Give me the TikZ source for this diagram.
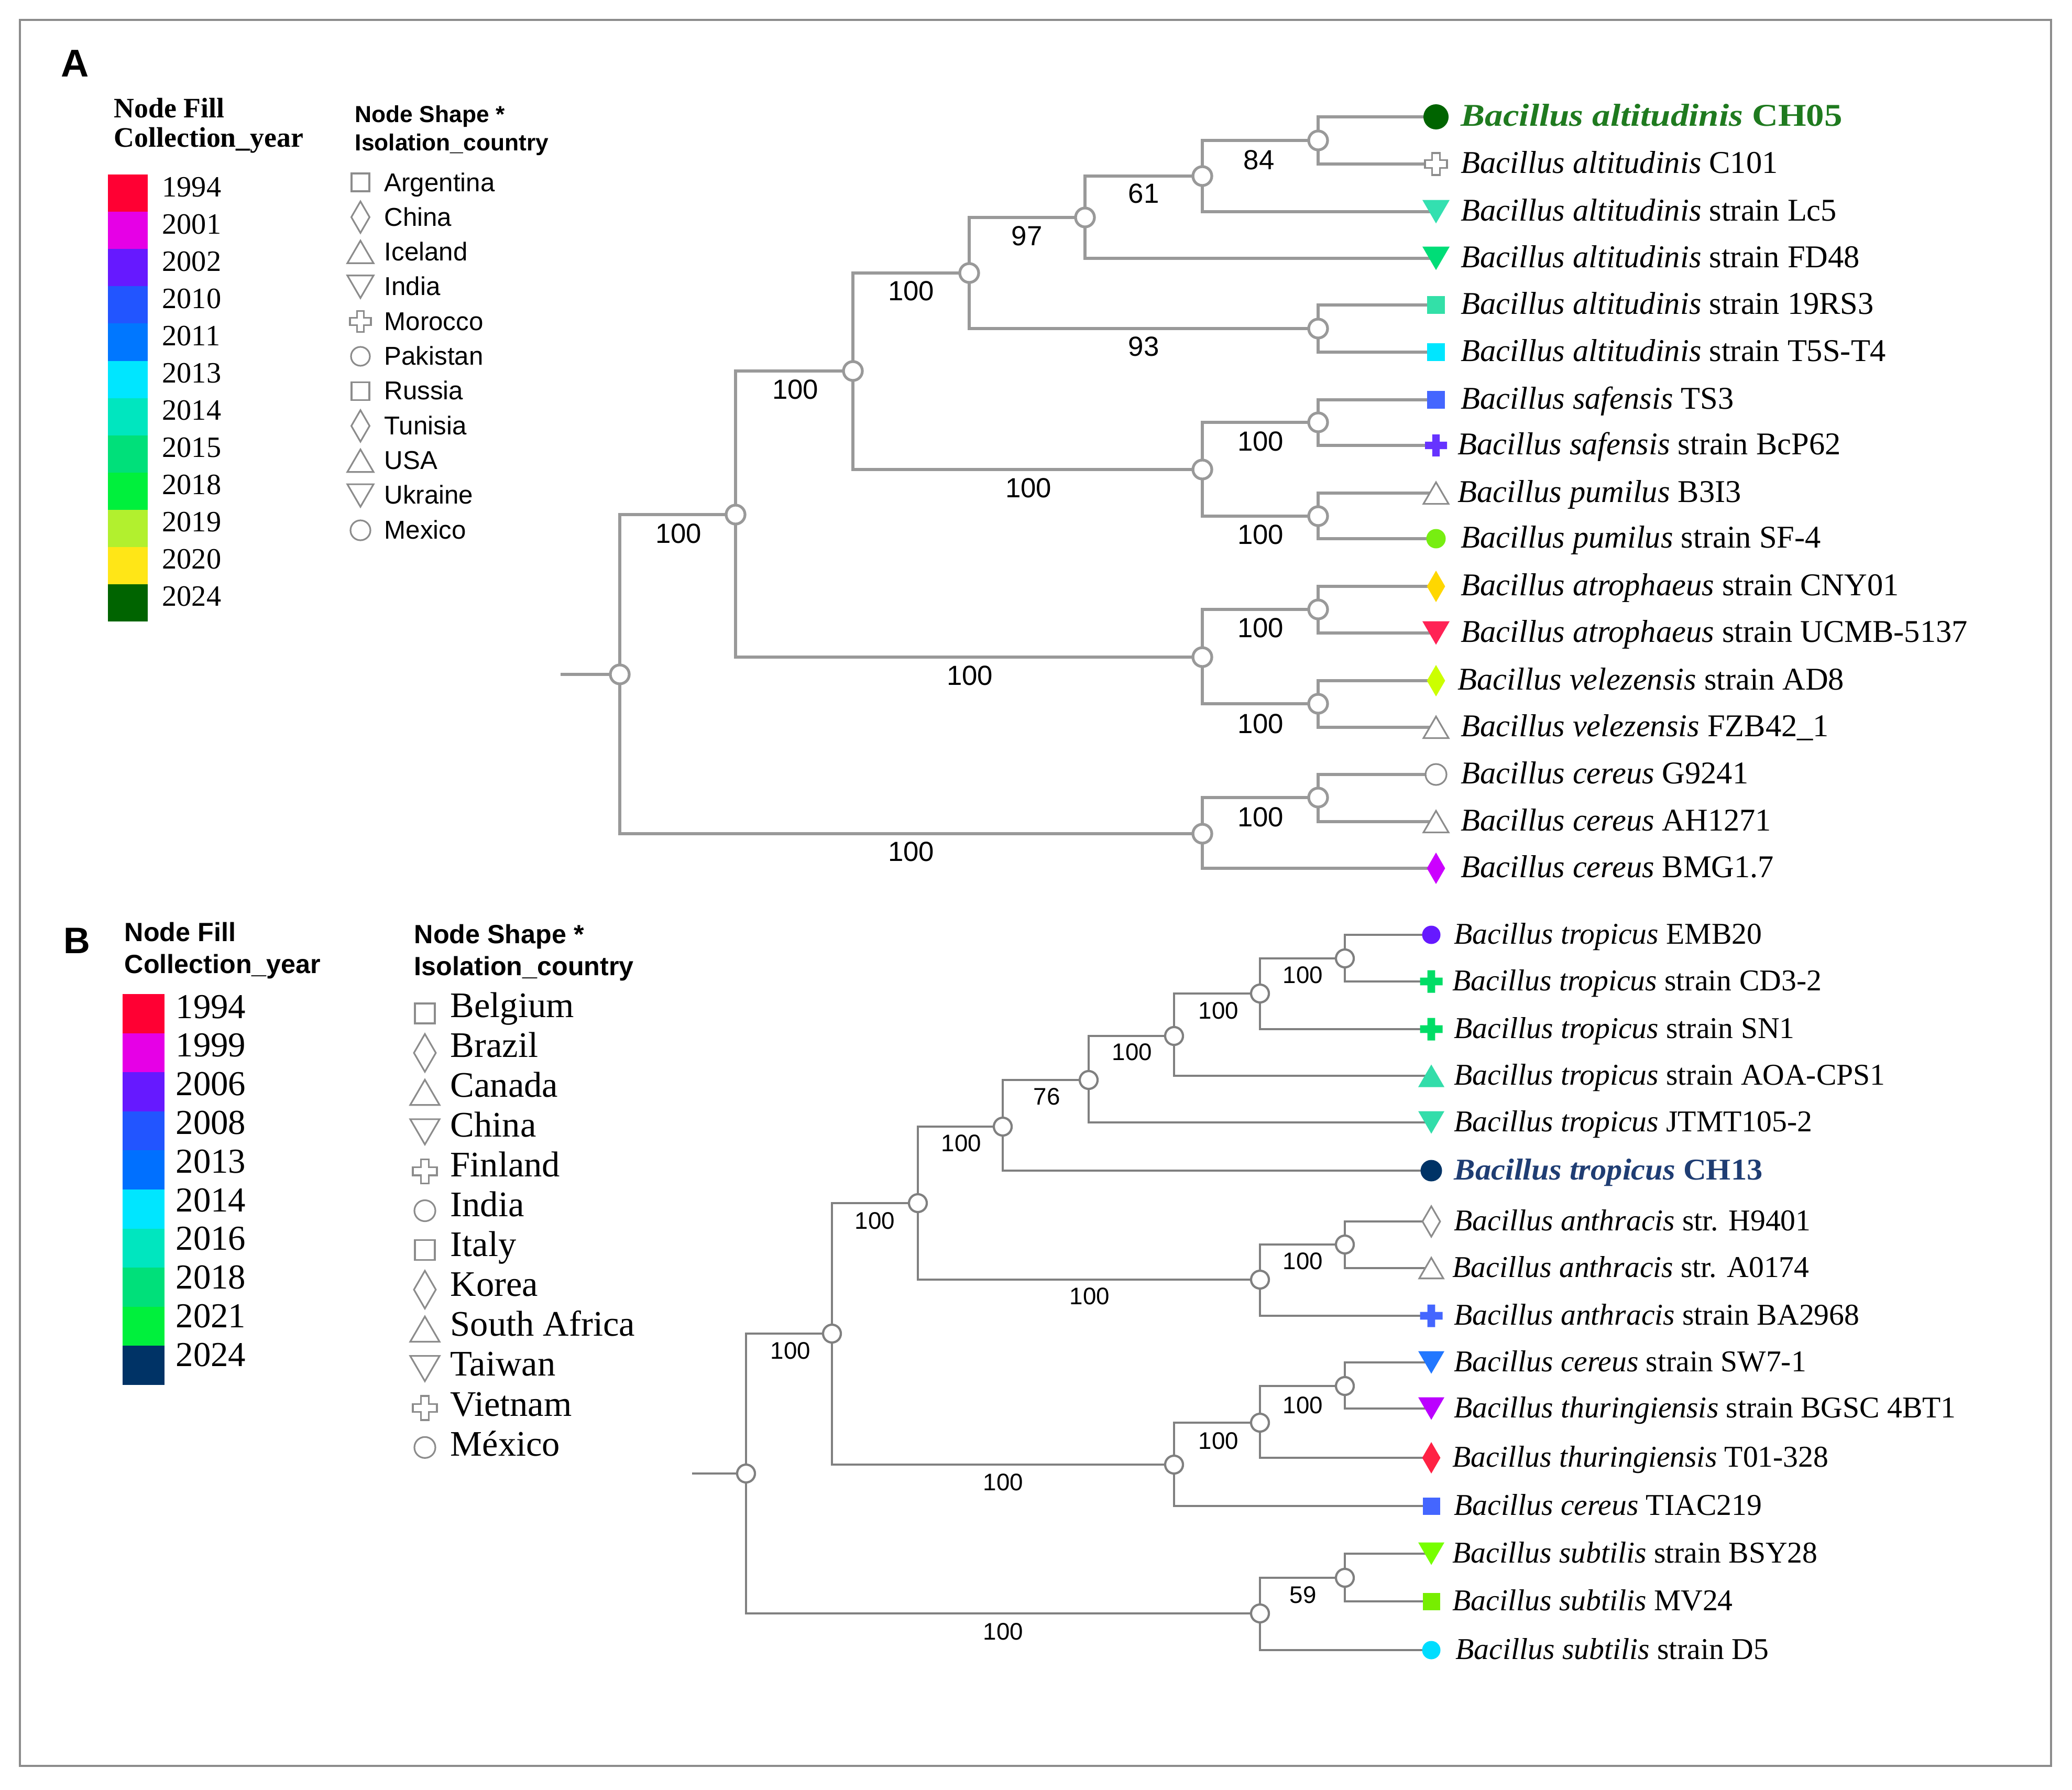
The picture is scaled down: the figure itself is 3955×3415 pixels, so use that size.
\documentclass[tikz,border=0pt]{standalone}
\usepackage{fontspec}
\setmainfont{Liberation Serif}
\newfontfamily\lsans{Liberation Sans}
\usetikzlibrary{backgrounds}
\definecolor{lineA}{HTML}{999999}
\definecolor{lineB}{HTML}{808080}
\definecolor{frameC}{HTML}{8C8C8C}
\definecolor{mgray}{HTML}{8C8C8C}
\definecolor{cA}{HTML}{FF0033}
\definecolor{cB}{HTML}{E600E6}
\definecolor{cC}{HTML}{6619FF}
\definecolor{cD}{HTML}{2255FF}
\definecolor{cE}{HTML}{0077FF}
\definecolor{cF}{HTML}{00E6FF}
\definecolor{cG}{HTML}{00E6BF}
\definecolor{cH}{HTML}{00E07A}
\definecolor{cI}{HTML}{00F03C}
\definecolor{cJ}{HTML}{B2F02E}
\definecolor{cK}{HTML}{FFE617}
\definecolor{cL}{HTML}{006400}
\definecolor{cM}{HTML}{003366}
\definecolor{cN}{HTML}{0070FF}
\definecolor{chgreen}{HTML}{1F7A1F}
\definecolor{chblue}{HTML}{1F3D73}
\definecolor{mTeal}{HTML}{33E0B0}
\definecolor{mGreen}{HTML}{00DD77}
\definecolor{mSq}{HTML}{33E0A8}
\definecolor{mBlue}{HTML}{4466FF}
\definecolor{mPurp}{HTML}{6633FF}
\definecolor{mLime}{HTML}{77EE11}
\definecolor{mGold}{HTML}{FFD700}
\definecolor{mRed}{HTML}{FF2255}
\definecolor{mYel}{HTML}{CCFF00}
\definecolor{mMag}{HTML}{CC00FF}
\definecolor{mBGreen}{HTML}{00DD66}
\definecolor{mBTeal}{HTML}{33DDAA}
\definecolor{mSky}{HTML}{2277FF}
\definecolor{mViol}{HTML}{BB00FF}
\definecolor{mCrim}{HTML}{FF2244}
\definecolor{mChart}{HTML}{77FF00}
\definecolor{mGrass}{HTML}{77EE00}
\definecolor{mCyan}{HTML}{00DDFF}
\newcommand\spc[1]{\textit{#1}}
\begin{document}
\begin{tikzpicture}[x=0.01cm,y=-0.01cm,
  treeA/.style={draw=lineA, line width=1.5pt},
  treeB/.style={draw=lineB, line width=1.2pt},
  inA/.style={circle, draw=lineA, fill=white, line width=1.5pt, minimum size=0.36cm, inner sep=0pt},
  inB/.style={circle, draw=lineB, fill=white, line width=1.2pt, minimum size=0.34cm, inner sep=0pt},
  supA/.style={inner sep=0pt, font=\lsans\fontsize{15}{15}\selectfont},
  supB/.style={inner sep=0pt, font=\lsans\fontsize{13}{13}\selectfont},
  taxA/.style={anchor=base west, inner sep=0pt, font=\fontsize{17.2}{19}\selectfont},
  taxB/.style={anchor=base west, inner sep=0pt, font=\fontsize{16.4}{18}\selectfont},
  hollow/.style={draw=mgray, fill=white, line width=0.9pt},
  ttlserif/.style={anchor=base west, inner sep=0pt, font=\bfseries\fontsize{15.3}{15}\selectfont},
  ttlsans/.style={anchor=base west, inner sep=0pt, font=\lsans\bfseries\fontsize{12.6}{12.6}\selectfont},
  ttlsansB/.style={anchor=base west, inner sep=0pt, font=\lsans\bfseries\fontsize{14.3}{14.3}\selectfont},
  yrA/.style={anchor=base west, inner sep=0pt, font=\fontsize{16}{16}\selectfont},
  ctA/.style={anchor=base west, inner sep=0pt, font=\lsans\fontsize{14}{14}\selectfont},
  yrB/.style={anchor=base west, inner sep=0pt, font=\fontsize{19}{19}\selectfont},
  ctB/.style={anchor=base west, inner sep=0pt, font=\fontsize{19.5}{19.5}\selectfont},
  panel/.style={anchor=base west, inner sep=0pt, font=\lsans\bfseries\fontsize{21}{21}\selectfont},
  pics/tdown/.style={code={\path[pic actions] (-0.5,-0.43) -- (0.5,-0.43) -- (0,0.43) -- cycle;}},
  pics/tup/.style={code={\path[pic actions] (-0.5,0.43) -- (0.5,0.43) -- (0,-0.43) -- cycle;}},
  pics/sq/.style={code={\path[pic actions] (-0.5,-0.5) rectangle (0.5,0.5);}},
  pics/dia/.style={code={\path[pic actions] (-0.29,0) -- (0,-0.5) -- (0.29,0) -- (0,0.5) -- cycle;}},
  pics/circ/.style={code={\path[pic actions] (0,0) circle[radius=0.5];}},
  pics/plus/.style={code={\path[pic actions] (-0.5,-0.17) -- (-0.17,-0.17) -- (-0.17,-0.5) -- (0.17,-0.5) -- (0.17,-0.17) -- (0.5,-0.17) -- (0.5,0.17) -- (0.17,0.17) -- (0.17,0.5) -- (-0.17,0.5) -- (-0.17,0.17) -- (-0.5,0.17) -- cycle;}},
]
\useasboundingbox (0,0) rectangle (3955,3415);
\draw[draw=frameC, line width=1.1pt] (38,38) rectangle (3915,3370);

% ================= Panel A legend =================
\node[panel] (labA) at (116,147) {A};
\node[ttlserif] (nfA1) at (217,225) {Node Fill};
\node[ttlserif] (nfA2) at (217,281) {Collection\_year};
\node[ttlsans] (nsA1) at (677,233) {Node Shape *};
\node[ttlsans] (nsA2) at (677,287) {Isolation\_country};
\foreach \c [count=\i from 0] in {cA,cB,cC,cD,cE,cF,cG,cH,cI,cJ,cK,cL}
  \fill[\c] (206,{333+71.1*\i}) rectangle (282,{333+71.1*(\i+1)});
\foreach \yv [count=\i from 0] in {1994,2001,2002,2010,2011,2013,2014,2015,2018,2019,2020,2024}
  \node[yrA] (yA\i) at (309,{375+71*\i}) {\yv};
\foreach \ct [count=\i from 0] in {Argentina,China,Iceland,India,Morocco,Pakistan,Russia,Tunisia,USA,Ukraine,Mexico}
  \node[ctA] (cA\i) at (733,{365+66.3*\i}) {\ct};
\pic[hollow, scale=34] at (688,348) {sq};
\pic[hollow, scale=60] at (688,414.4) {dia};
\pic[hollow, scale=50] at (688,480.8) {tup};
\pic[hollow, scale=50] at (688,547.2) {tdown};
\pic[hollow, scale=40] at (688,613.6) {plus};
\pic[hollow, scale=36] at (688,680) {circ};
\pic[hollow, scale=34] at (688,746.4) {sq};
\pic[hollow, scale=60] at (688,812.8) {dia};
\pic[hollow, scale=50] at (688,879.2) {tup};
\pic[hollow, scale=50] at (688,945.6) {tdown};
\pic[hollow, scale=38] at (688,1012) {circ};

% ================= Panel A tree =================
\node[inA] (a0) at (1183,1287) {};
\node[inA] (a1) at (1404,982) {};
\node[inA] (a2) at (1628,708) {};
\node[inA] (a3) at (1850,521) {};
\node[inA] (a4) at (2071,415) {};
\node[inA] (a5) at (2295,336) {};
\node[inA] (a6) at (2516,268) {};
\node[inA] (a7) at (2516,627) {};
\node[inA] (a8) at (2295,896) {};
\node[inA] (a9) at (2516,806) {};
\node[inA] (a10) at (2516,985) {};
\node[inA] (a11) at (2295,1254) {};
\node[inA] (a12) at (2516,1163) {};
\node[inA] (a13) at (2516,1343) {};
\node[inA] (a14) at (2295,1591) {};
\node[inA] (a15) at (2516,1522) {};
\coordinate (a0s) at (1070,1287);

\newcommand\leafA[4]{\coordinate (#1) at (2741,#2); \pic[#3] at (#1) {#4};}
\leafA{lA1}{223}{fill=cL, scale=48}{circ}
\leafA{lA2}{313}{hollow, scale=42}{plus}
\leafA{lA3}{404}{fill=mTeal, scale=52}{tdown}
\leafA{lA4}{493}{fill=mGreen, scale=52}{tdown}
\leafA{lA5}{582}{fill=mSq, scale=34}{sq}
\leafA{lA6}{672}{fill=cF, scale=34}{sq}
\leafA{lA7}{763}{fill=mBlue, scale=34}{sq}
\leafA{lA8}{850}{fill=mPurp, scale=42}{plus}
\leafA{lA9}{941}{hollow, scale=48}{tup}
\leafA{lA10}{1028}{fill=mLime, scale=37}{circ}
\leafA{lA11}{1119}{fill=mGold, scale=60}{dia}
\leafA{lA12}{1208}{fill=mRed, scale=52}{tdown}
\leafA{lA13}{1299}{fill=mYel, scale=60}{dia}
\leafA{lA14}{1388}{hollow, scale=48}{tup}
\leafA{lA15}{1478}{hollow, scale=40}{circ}
\leafA{lA16}{1568}{hollow, scale=48}{tup}
\leafA{lA17}{1657}{fill=mMag, scale=60}{dia}

\node[taxA, text=chgreen, font=\bfseries\fontsize{17.2}{19}\selectfont\addfontfeature{FakeStretch=1.14}] (tA1) at (2788,240) {\spc{Bacillus altitudinis} CH05};
\node[taxA] (tA2) at (2788,330) {\spc{Bacillus altitudinis} C101};
\node[taxA] (tA3) at (2788,421) {\spc{Bacillus altitudinis} strain Lc5};
\node[taxA] (tA4) at (2788,510) {\spc{Bacillus altitudinis} strain FD48};
\node[taxA] (tA5) at (2788,599) {\spc{Bacillus altitudinis} strain 19RS3};
\node[taxA] (tA6) at (2788,689) {\spc{Bacillus altitudinis} strain T5S-T4};
\node[taxA] (tA7) at (2788,780) {\spc{Bacillus safensis} TS3};
\node[taxA] (tA8) at (2782,867) {\spc{Bacillus safensis} strain BcP62};
\node[taxA] (tA9) at (2782,958) {\spc{Bacillus pumilus} B3I3};
\node[taxA] (tA10) at (2788,1045) {\spc{Bacillus pumilus} strain SF-4};
\node[taxA] (tA11) at (2788,1136) {\spc{Bacillus atrophaeus} strain CNY01};
\node[taxA] (tA12) at (2788,1225) {\spc{Bacillus atrophaeus} strain UCMB-5137};
\node[taxA] (tA13) at (2782,1316) {\spc{Bacillus velezensis} strain AD8};
\node[taxA] (tA14) at (2788,1405) {\spc{Bacillus velezensis} FZB42\_1};
\node[taxA] (tA15) at (2788,1495) {\spc{Bacillus cereus} G9241};
\node[taxA] (tA16) at (2788,1585) {\spc{Bacillus cereus} AH1271};
\node[taxA] (tA17) at (2788,1674) {\spc{Bacillus cereus} BMG1.7};

\node[supA] (sA1) at (1295,1018) {100};
\node[supA] (sA2) at (1739,1625) {100};
\node[supA] (sA3) at (1518,743) {100};
\node[supA] (sA4) at (1851,1289) {100};
\node[supA] (sA5) at (1739,555) {100};
\node[supA] (sA6) at (1963,931) {100};
\node[supA] (sA7) at (1960,450) {97};
\node[supA] (sA8) at (2183,661) {93};
\node[supA] (sA9) at (2183,369) {61};
\node[supA] (sA10) at (2403,305) {84};
\node[supA] (sA11) at (2406,842) {100};
\node[supA] (sA12) at (2406,1020) {100};
\node[supA] (sA13) at (2406,1198) {100};
\node[supA] (sA14) at (2406,1381) {100};
\node[supA] (sA15) at (2406,1559) {100};

\begin{scope}[on background layer]
\fill[white] (0,0) rectangle (3955,3415);
\draw[treeA] (a0s) -- (a0.center);
\draw[treeA] (a0.center) |- (a1.center);
\draw[treeA] (a0.center) |- (a14.center);
\draw[treeA] (a1.center) |- (a2.center);
\draw[treeA] (a1.center) |- (a11.center);
\draw[treeA] (a2.center) |- (a3.center);
\draw[treeA] (a2.center) |- (a8.center);
\draw[treeA] (a3.center) |- (a4.center);
\draw[treeA] (a3.center) |- (a7.center);
\draw[treeA] (a4.center) |- (a5.center);
\draw[treeA] (a4.center) |- (lA4);
\draw[treeA] (a5.center) |- (a6.center);
\draw[treeA] (a5.center) |- (lA3);
\draw[treeA] (a6.center) |- (lA1);
\draw[treeA] (a6.center) |- (lA2);
\draw[treeA] (a7.center) |- (lA5);
\draw[treeA] (a7.center) |- (lA6);
\draw[treeA] (a8.center) |- (a9.center);
\draw[treeA] (a8.center) |- (a10.center);
\draw[treeA] (a9.center) |- (lA7);
\draw[treeA] (a9.center) |- (lA8);
\draw[treeA] (a10.center) |- (lA9);
\draw[treeA] (a10.center) |- (lA10);
\draw[treeA] (a11.center) |- (a12.center);
\draw[treeA] (a11.center) |- (a13.center);
\draw[treeA] (a12.center) |- (lA11);
\draw[treeA] (a12.center) |- (lA12);
\draw[treeA] (a13.center) |- (lA13);
\draw[treeA] (a13.center) |- (lA14);
\draw[treeA] (a14.center) |- (a15.center);
\draw[treeA] (a14.center) |- (lA17);
\draw[treeA] (a15.center) |- (lA15);
\draw[treeA] (a15.center) |- (lA16);
\end{scope}

% ================= Panel B legend =================
\node[panel, font=\lsans\bfseries\fontsize{20}{20}\selectfont] (labB) at (121,1819) {B};
\node[ttlsansB] (nfB1) at (237,1796) {Node Fill};
\node[ttlsansB] (nfB2) at (237,1857) {Collection\_year};
\node[ttlsansB] (nsB1) at (790,1800) {Node Shape *};
\node[ttlsansB] (nsB2) at (790,1861) {Isolation\_country};
\foreach \c [count=\i from 0] in {cA,cB,cC,cD,cN,cF,cG,cH,cI,cM}
  \fill[\c] (234,{1897+74.6*\i}) rectangle (314,{1897+74.6*(\i+1)});
\foreach \yv [count=\i from 0] in {1994,1999,2006,2008,2013,2014,2016,2018,2021,2024}
  \node[yrB] (yB\i) at (335,{1943+73.8*\i}) {\yv};
\foreach \ct [count=\i from 0] in {Belgium,Brazil,Canada,China,Finland,India,Italy,Korea,South Africa,Taiwan,Vietnam,México}
  \node[ctB] (cB\i) at (859,{1941+76.1*\i}) {\ct};
\pic[hollow, scale=38] at (811,1934) {sq};
\pic[hollow, scale=72] at (811,2009.3) {dia};
\pic[hollow, scale=56] at (811,2084.6) {tup};
\pic[hollow, scale=56] at (811,2159.9) {tdown};
\pic[hollow, scale=46] at (811,2235.2) {plus};
\pic[hollow, scale=40] at (811,2310.5) {circ};
\pic[hollow, scale=38] at (811,2385.8) {sq};
\pic[hollow, scale=72] at (811,2461.1) {dia};
\pic[hollow, scale=56] at (811,2536.4) {tup};
\pic[hollow, scale=56] at (811,2611.7) {tdown};
\pic[hollow, scale=46] at (811,2687) {plus};
\pic[hollow, scale=40] at (811,2762.3) {circ};

% ================= Panel B tree =================
\node[inB] (b0) at (1424,2812) {};
\node[inB] (b1) at (1588,2545) {};
\node[inB] (b2) at (1752,2296) {};
\node[inB] (b3) at (1914,2150) {};
\node[inB] (b4) at (2078,2061) {};
\node[inB] (b5) at (2241,1977) {};
\node[inB] (b6) at (2405,1896) {};
\node[inB] (b7) at (2567,1829) {};
\node[inB] (b8) at (2405,2442) {};
\node[inB] (b9) at (2567,2375) {};
\node[inB] (b10) at (2241,2795) {};
\node[inB] (b11) at (2405,2715) {};
\node[inB] (b12) at (2567,2645) {};
\node[inB] (b13) at (2405,3079) {};
\node[inB] (b14) at (2567,3011) {};
\coordinate (b0s) at (1321,2812);

\newcommand\leafB[4]{\coordinate (#1) at (2732,#2); \pic[#3] at (#1) {#4};}
\leafB{lB1}{1784}{fill=cC, scale=35}{circ}
\leafB{lB2}{1873}{fill=mBGreen, scale=43}{plus}
\leafB{lB3}{1964}{fill=mBGreen, scale=43}{plus}
\leafB{lB4}{2053}{fill=mBTeal, scale=50}{tup}
\leafB{lB5}{2142}{fill=mBTeal, scale=50}{tdown}
\leafB{lB6}{2234}{fill=cM, scale=41}{circ}
\leafB{lB7}{2331}{hollow, scale=58}{dia}
\leafB{lB8}{2420}{hollow, scale=46}{tup}
\leafB{lB9}{2511}{fill=mBlue, scale=43}{plus}
\leafB{lB10}{2600}{fill=mSky, scale=50}{tdown}
\leafB{lB11}{2688}{fill=mViol, scale=50}{tdown}
\leafB{lB12}{2782}{fill=mCrim, scale=60}{dia}
\leafB{lB13}{2874}{fill=mBlue, scale=33}{sq}
\leafB{lB14}{2965}{fill=mChart, scale=50}{tdown}
\leafB{lB15}{3056}{fill=mGrass, scale=33}{sq}
\leafB{lB16}{3149}{fill=mCyan, scale=35}{circ}

\node[taxB] (tB1) at (2775,1801) {\spc{Bacillus tropicus} EMB20};
\node[taxB] (tB2) at (2772,1890) {\spc{Bacillus tropicus} strain CD3-2};
\node[taxB] (tB3) at (2775,1981) {\spc{Bacillus tropicus} strain SN1};
\node[taxB] (tB4) at (2775,2070) {\spc{Bacillus tropicus} strain AOA-CPS1};
\node[taxB] (tB5) at (2775,2159) {\spc{Bacillus tropicus} JTMT105-2};
\node[taxB, text=chblue, font=\bfseries\fontsize{16.4}{18}\selectfont\addfontfeature{FakeStretch=1.05}] (tB6) at (2775,2251) {\spc{Bacillus tropicus} CH13};
\node[taxB] (tB7) at (2775,2348) {\spc{Bacillus anthracis} str. H9401};
\node[taxB] (tB8) at (2772,2437) {\spc{Bacillus anthracis} str. A0174};
\node[taxB] (tB9) at (2775,2528) {\spc{Bacillus anthracis} strain BA2968};
\node[taxB] (tB10) at (2775,2617) {\spc{Bacillus cereus} strain SW7-1};
\node[taxB] (tB11) at (2775,2705) {\spc{Bacillus thuringiensis} strain BGSC 4BT1};
\node[taxB] (tB12) at (2772,2799) {\spc{Bacillus thuringiensis} T01-328};
\node[taxB] (tB13) at (2775,2891) {\spc{Bacillus cereus} TIAC219};
\node[taxB] (tB14) at (2772,2982) {\spc{Bacillus subtilis} strain BSY28};
\node[taxB] (tB15) at (2772,3073) {\spc{Bacillus subtilis} MV24};
\node[taxB] (tB16) at (2778,3166) {\spc{Bacillus subtilis} strain D5};

\node[supB] (sB1) at (1509,2578) {100};
\node[supB] (sB2) at (1915,3114) {100};
\node[supB] (sB3) at (1670,2330) {100};
\node[supB] (sB4) at (1915,2829) {100};
\node[supB] (sB5) at (1835,2182) {100};
\node[supB] (sB6) at (2080,2474) {100};
\node[supB] (sB7) at (1998,2093) {76};
\node[supB] (sB8) at (2161,2008) {100};
\node[supB] (sB9) at (2326,1929) {100};
\node[supB] (sB10) at (2487,1861) {100};
\node[supB] (sB11) at (2487,2407) {100};
\node[supB] (sB12) at (2326,2750) {100};
\node[supB] (sB13) at (2487,2682) {100};
\node[supB] (sB14) at (2487,3044) {59};

\begin{scope}[on background layer]
\draw[treeB] (b0s) -- (b0.center);
\draw[treeB] (b0.center) |- (b1.center);
\draw[treeB] (b0.center) |- (b13.center);
\draw[treeB] (b1.center) |- (b2.center);
\draw[treeB] (b1.center) |- (b10.center);
\draw[treeB] (b2.center) |- (b3.center);
\draw[treeB] (b2.center) |- (b8.center);
\draw[treeB] (b3.center) |- (b4.center);
\draw[treeB] (b3.center) |- (lB6);
\draw[treeB] (b4.center) |- (b5.center);
\draw[treeB] (b4.center) |- (lB5);
\draw[treeB] (b5.center) |- (b6.center);
\draw[treeB] (b5.center) |- (lB4);
\draw[treeB] (b6.center) |- (b7.center);
\draw[treeB] (b6.center) |- (lB3);
\draw[treeB] (b7.center) |- (lB1);
\draw[treeB] (b7.center) |- (lB2);
\draw[treeB] (b8.center) |- (b9.center);
\draw[treeB] (b8.center) |- (lB9);
\draw[treeB] (b9.center) |- (lB7);
\draw[treeB] (b9.center) |- (lB8);
\draw[treeB] (b10.center) |- (b11.center);
\draw[treeB] (b10.center) |- (lB13);
\draw[treeB] (b11.center) |- (b12.center);
\draw[treeB] (b11.center) |- (lB12);
\draw[treeB] (b12.center) |- (lB10);
\draw[treeB] (b12.center) |- (lB11);
\draw[treeB] (b13.center) |- (b14.center);
\draw[treeB] (b13.center) |- (lB16);
\draw[treeB] (b14.center) |- (lB14);
\draw[treeB] (b14.center) |- (lB15);
\end{scope}
\end{tikzpicture}
\end{document}
